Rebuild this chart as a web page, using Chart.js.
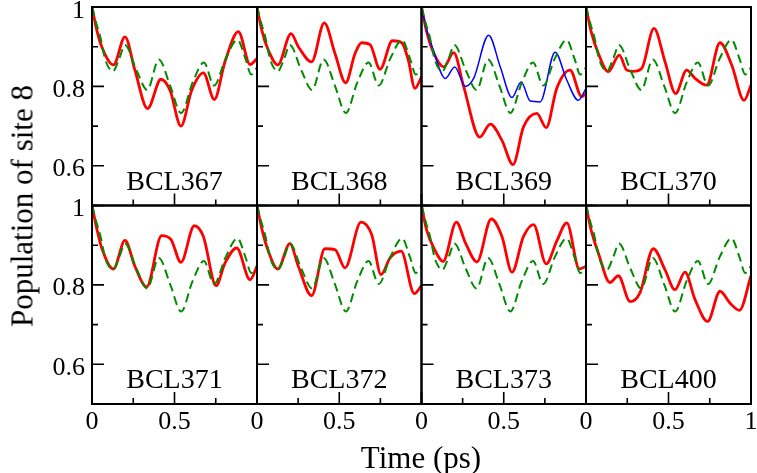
<!DOCTYPE html>
<html>
<head>
<meta charset="utf-8">
<script src="https://cdn.jsdelivr.net/npm/chart.js@4.4.0/dist/chart.umd.min.js"></script>
<style>
  body { margin: 0; background: #fff; }
  #wrap { position: relative; width: 757px; height: 473px; overflow: hidden; }
  #wrap canvas { position: absolute; left: 0; top: 0; }
  .texto { position: absolute; font-family: "Liberation Serif", "Times New Roman", serif; color: #000; white-space: nowrap; line-height: 1; z-index: 5; }
  .titulo { font-size: 31px; }
  #tituloX { left: 421px; top: 457px; transform: translate(-50%, -50%); }
  #tituloY { left: 22px; top: 206px; transform: translate(-50%, -50%) rotate(-90deg); }
</style>
</head>
<body>
<div id="wrap">
  <div class="texto titulo" id="tituloY">Population of site 8</div>
  <div class="texto titulo" id="tituloX">Time (ps)</div>
</div>
<script>
// nombres de los paneles (fila de arriba, luego fila de abajo)
const paneles = ['BCL367', 'BCL368', 'BCL369', 'BCL370', 'BCL371', 'BCL372', 'BCL373', 'BCL400'];

// curva de referencia (verde, discontinua), igual en todos los paneles
const tRef = [0, 0.025, 0.05, 0.08, 0.105, 0.127, 0.165, 0.2, 0.27, 0.335, 0.405, 0.475, 0.54, 0.61, 0.678, 0.74, 0.81, 0.882, 0.93, 0.965, 1.0];
const pRef = [1.0, 0.96, 0.925, 0.868, 0.845, 0.838, 0.87, 0.904, 0.84, 0.791, 0.868, 0.8, 0.733, 0.81, 0.86, 0.802, 0.87, 0.917, 0.87, 0.83, 0.848];

// curvas rojas, una por panel
const t367 = [0, 0.03, 0.059, 0.13, 0.2, 0.26, 0.337, 0.418, 0.473, 0.539, 0.604, 0.675, 0.741, 0.806, 0.887, 0.958, 1.0];
const p367 = [1.0, 0.94, 0.9, 0.854, 0.925, 0.841, 0.744, 0.818, 0.79, 0.70, 0.79, 0.834, 0.767, 0.862, 0.938, 0.855, 0.87];

const t368 = [0, 0.03, 0.069, 0.126, 0.207, 0.251, 0.332, 0.409, 0.474, 0.539, 0.596, 0.636, 0.687, 0.748, 0.823, 0.88, 0.92, 0.96, 1.0];
const p368 = [1.0, 0.94, 0.891, 0.854, 0.933, 0.90, 0.862, 0.96, 0.883, 0.809, 0.883, 0.91, 0.905, 0.843, 0.915, 0.91, 0.866, 0.795, 0.824];

const t369 = [0, 0.03, 0.075, 0.135, 0.196, 0.256, 0.354, 0.418, 0.489, 0.556, 0.62, 0.701, 0.758, 0.822, 0.903, 0.974, 1.0];
const p369 = [1.0, 0.94, 0.883, 0.849, 0.885, 0.80, 0.672, 0.705, 0.664, 0.603, 0.698, 0.732, 0.696, 0.795, 0.841, 0.774, 0.782];

// curva azul, solo en BCL369
const t369b = [0, 0.03, 0.065, 0.145, 0.202, 0.267, 0.317, 0.408, 0.479, 0.55, 0.606, 0.661, 0.721, 0.812, 0.883, 0.953, 1.0];
const p369b = [1.0, 0.945, 0.90, 0.82, 0.849, 0.80, 0.82, 0.929, 0.849, 0.772, 0.811, 0.763, 0.761, 0.886, 0.816, 0.765, 0.795];

const t370 = [0, 0.03, 0.075, 0.135, 0.202, 0.247, 0.287, 0.337, 0.412, 0.479, 0.543, 0.61, 0.661, 0.731, 0.812, 0.883, 0.958, 1.0];
const p370 = [1.0, 0.94, 0.883, 0.837, 0.879, 0.841, 0.838, 0.845, 0.946, 0.862, 0.782, 0.841, 0.82, 0.803, 0.91, 0.854, 0.765, 0.803];

const t371 = [0, 0.03, 0.059, 0.13, 0.2, 0.26, 0.331, 0.422, 0.479, 0.539, 0.62, 0.675, 0.752, 0.806, 0.877, 0.958, 1.0];
const p371 = [1.0, 0.94, 0.893, 0.84, 0.912, 0.847, 0.795, 0.924, 0.914, 0.857, 0.949, 0.922, 0.798, 0.855, 0.893, 0.813, 0.847];

const t372 = [0, 0.03, 0.069, 0.126, 0.2, 0.251, 0.332, 0.413, 0.474, 0.535, 0.632, 0.697, 0.754, 0.809, 0.876, 0.956, 1.0];
const p372 = [1.0, 0.94, 0.885, 0.84, 0.904, 0.847, 0.773, 0.891, 0.889, 0.843, 0.958, 0.927, 0.826, 0.868, 0.885, 0.778, 0.798];

const t373 = [0, 0.03, 0.075, 0.131, 0.212, 0.267, 0.337, 0.424, 0.489, 0.55, 0.62, 0.681, 0.758, 0.822, 0.883, 0.96, 1.0];
const p373 = [1.0, 0.94, 0.893, 0.859, 0.958, 0.906, 0.858, 0.966, 0.922, 0.832, 0.922, 0.952, 0.853, 0.91, 0.956, 0.84, 0.847];

const t400 = [0, 0.03, 0.075, 0.145, 0.196, 0.267, 0.327, 0.408, 0.479, 0.539, 0.60, 0.661, 0.737, 0.812, 0.873, 0.93, 1.0];
const p400 = [1.0, 0.94, 0.88, 0.806, 0.823, 0.758, 0.78, 0.891, 0.838, 0.788, 0.832, 0.763, 0.708, 0.784, 0.754, 0.736, 0.823];

const tiemposRojos = [t367, t368, t369, t370, t371, t372, t373, t400];
const valoresRojos = [p367, p368, p369, p370, p371, p372, p373, p400];

// ticks
const ticksY = [0.5, 0.6, 0.7, 0.8, 0.9, 1.0];
const ticksYMayores = [0.6, 0.8, 1.0];
const etiquetasY = [1, 0.8, 0.6];
const ticksX = [0, 0.25, 0.5, 0.75, 1.0];
const ticksXMayores = [0, 0.5, 1.0];
const etiquetasX = [0, 0.5];

// bordes de los paneles en pixeles
const bordesX = [92, 257, 421.5, 586, 751];
const bordesY = [7, 205.5, 404];
const ANCHO = 757, ALTO = 473;

function puntos(ts, vs) {
    return ts.map((t, i) => ({ x: t, y: vs[i] }));
}

// texto como elemento html, centrado o alineado a la derecha en (x, y)
function etiqueta(texto, x, y, tam, alinear) {
    const div = document.createElement('div');
    div.className = 'texto';
    div.textContent = texto;
    div.style.fontSize = tam + 'px';
    div.style.left = x + 'px';
    div.style.top = y + 'px';
    div.style.transform = alinear === 'derecha' ? 'translate(-100%, -50%)' : 'translate(-50%, -50%)';
    document.getElementById('wrap').appendChild(div);
}

const pluginPanel = {
    id: 'panel',
    afterDatasetsDraw(chart) {
        const ctx = chart.ctx;
        const a = chart.chartArea;
        const x = chart.scales.x;
        const y = chart.scales.y;
        ctx.save();
        ctx.strokeStyle = '#000';
        ctx.lineWidth = 2;
        ctx.strokeRect(a.left, a.top, a.right - a.left, a.bottom - a.top);

        // ticks hacia adentro: eje izquierdo y eje de abajo
        ctx.lineWidth = 1.6;
        ctx.beginPath();
        ticksY.forEach(v => {
            const py = y.getPixelForValue(v);
            const largo = ticksYMayores.includes(v) ? 12 : 6;
            ctx.moveTo(a.left, py);
            ctx.lineTo(a.left + largo, py);
        });
        ticksX.forEach(v => {
            const px = x.getPixelForValue(v);
            const largo = ticksXMayores.includes(v) ? 12 : 6;
            ctx.moveTo(px, a.bottom);
            ctx.lineTo(px, a.bottom - largo);
        });
        ctx.stroke();
        ctx.restore();
    }
};

function crearPanel(i) {
    const col = i % 4;
    const fila = Math.floor(i / 4);
    const canvas = document.createElement('canvas');
    canvas.width = ANCHO;
    canvas.height = ALTO;
    document.getElementById('wrap').appendChild(canvas);

    const datasets = [{
        label: 'referencia',
        data: puntos(tRef, pRef),
        borderColor: '#008c00',
        borderWidth: 2,
        borderDash: [9, 5],
        pointRadius: 0,
        cubicInterpolationMode: 'monotone',
        fill: false
    }];
    if (paneles[i] === 'BCL369') {
        datasets.push({
            label: 'azul',
            data: puntos(t369b, p369b),
            borderColor: '#0000ff',
            borderWidth: 1.5,
            pointRadius: 0,
            cubicInterpolationMode: 'monotone',
            fill: false
        });
    }
    datasets.push({
        label: paneles[i],
        data: puntos(tiemposRojos[i], valoresRojos[i]),
        borderColor: '#ff0000',
        borderWidth: 2.8,
        pointRadius: 0,
        cubicInterpolationMode: 'monotone',
        fill: false
    });

    const grafico = new Chart(canvas.getContext('2d'), {
        type: 'line',
        data: { datasets: datasets },
        options: {
            responsive: false,
            animation: false,
            devicePixelRatio: 1,
            layout: {
                padding: {
                    left: bordesX[col],
                    right: ANCHO - bordesX[col + 1],
                    top: bordesY[fila],
                    bottom: ALTO - bordesY[fila + 1]
                }
            },
            scales: {
                x: { type: 'linear', min: 0, max: 1, display: false },
                y: { type: 'linear', min: 0.5, max: 1, display: false }
            },
            plugins: {
                legend: { display: false },
                tooltip: { enabled: false }
            }
        },
        plugins: [pluginPanel]
    });

    // etiquetas de los ejes, ubicadas con las escalas del grafico
    const a = grafico.chartArea;
    const ex = grafico.scales.x;
    const ey = grafico.scales.y;
    if (col === 0) {
        etiquetasY.forEach(v => etiqueta(String(v), a.left - 7, ey.getPixelForValue(v) + 2.5, 26, 'derecha'));
    }
    if (fila === 1) {
        const lista = col === 3 ? etiquetasX.concat([1]) : etiquetasX;
        lista.forEach(v => etiqueta(String(v), ex.getPixelForValue(v), a.bottom + 17, 26, 'centro'));
    }
    etiqueta(paneles[i], (a.left + a.right) / 2, a.bottom - 25, 28, 'centro');
}

document.addEventListener('DOMContentLoaded', () => {
    for (let i = 0; i < paneles.length; i++) {
        crearPanel(i);
    }
});
</script>
</body>
</html>
